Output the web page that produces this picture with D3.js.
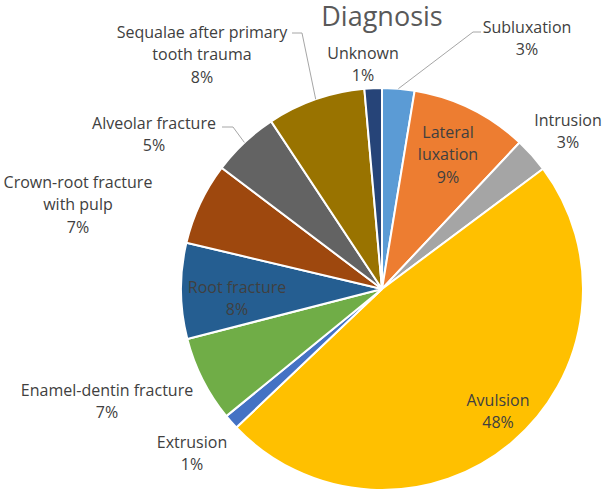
<!DOCTYPE html>
<html>
<head>
<meta charset="utf-8">
<script src="https://cdn.jsdelivr.net/npm/d3@7"></script>
<style>
  body { margin: 0; background: #fff; }
  text { font-family: "Open Sans", sans-serif; }
</style>
</head>
<body>
<div id="chart"></div>
<script>
// Diagnosis pie: share of cases per category (percent, clockwise from 12 o'clock)
var categories = ["Subluxation", "Lateral luxation", "Intrusion", "Avulsion", "Extrusion",
                  "Enamel-dentin fracture", "Root fracture", "Crown-root fracture with pulp",
                  "Alveolar fracture", "Sequalae after primary tooth trauma", "Unknown"];
var shares = [2.6, 9.4, 2.8, 48.1, 1.2, 6.9, 7.7, 6.6, 5.4, 7.9, 1.4];
var colors = ["#5B9BD5", "#ED7D31", "#A5A5A5", "#FFC000", "#4472C4", "#70AD47",
              "#255E91", "#9E480E", "#636363", "#997300", "#264478"];

// how each category name is broken onto lines in its label
var labelLines = [
    ["Subluxation"], ["Lateral", "luxation"], ["Intrusion"], ["Avulsion"], ["Extrusion"],
    ["Enamel-dentin fracture"], ["Root fracture"], ["Crown-root fracture", "with pulp"],
    ["Alveolar fracture"], ["Sequalae after primary", "tooth trauma"], ["Unknown"]
];

var width = 607, height = 494;
var cx = 382, cy = 289, radius = 201;
var lineHeight = 22.5;

// label placement (centre of first line), and leader lines where Excel drew them
var labelLayout = [
    { x: 527, y: 27,  leader: [[473, 32], [481, 32]] },
    { x: 448, y: 132 },
    { x: 568, y: 120 },
    { x: 498, y: 400 },
    { x: 192, y: 442 },
    { x: 107, y: 390 },
    { x: 237, y: 287 },
    { x: 78,  y: 182 },
    { x: 154, y: 123, leader: [[233, 127], [222, 127]] },
    { x: 202, y: 32,  leader: [[302, 33], [292, 33]] },
    { x: 363, y: 53 }
];

var data = categories.map(function(c, i) {
    return { name: c, value: shares[i], color: colors[i], lines: labelLines[i], layout: labelLayout[i] };
});
var total = d3.sum(shares);

var svg = d3.select("#chart").append("svg")
    .attr("width", width)
    .attr("height", height);

svg.append("rect")
    .attr("width", width)
    .attr("height", height)
    .style("fill", "#fff");

svg.append("text")
    .attr("x", cx)
    .attr("y", 26)
    .attr("text-anchor", "middle")
    .style("font-size", "27px")
    .style("fill", "#595959")
    .text("Diagnosis");

var pie = d3.pie()
    .sort(null)
    .value(function(d) { return d.value; });

var arc = d3.arc()
    .innerRadius(0)
    .outerRadius(radius);

var arcs = pie(data);

var g = svg.append("g")
    .attr("transform", "translate(" + cx + "," + cy + ")");

g.selectAll(".slice")
    .data(arcs)
  .enter().append("path")
    .attr("class", "slice")
    .attr("d", arc)
    .style("fill", function(d) { return d.data.color; })
    .style("stroke", "#fff")
    .style("stroke-width", 2);

// leader lines: from slice edge at mid angle to the label elbow
svg.selectAll(".leader")
    .data(arcs.filter(function(d) { return d.data.layout.leader; }))
  .enter().append("polyline")
    .attr("class", "leader")
    .attr("points", function(d) {
        var mid = (d.startAngle + d.endAngle) / 2;
        var sx = cx + radius * Math.sin(mid);
        var sy = cy - radius * Math.cos(mid);
        var pts = [[sx, sy]].concat(d.data.layout.leader);
        return pts.map(function(p) { return p.join(","); }).join(" ");
    })
    .style("fill", "none")
    .style("stroke", "#A6A6A6")
    .style("stroke-width", 1);

var fmt = d3.format(".0%");

var label = svg.selectAll(".label")
    .data(arcs)
  .enter().append("text")
    .attr("class", "label")
    .attr("text-anchor", "middle")
    .style("font-size", "16px")
    .style("fill", "#404040");

label.each(function(d) {
    var t = d3.select(this);
    var lines = d.data.lines.concat([fmt(d.data.value / total)]);
    lines.forEach(function(line, i) {
        t.append("tspan")
            .attr("x", d.data.layout.x)
            .attr("y", d.data.layout.y + i * lineHeight)
            .attr("dy", "0.35em")
            .text(line);
    });
});
</script>
</body>
</html>
